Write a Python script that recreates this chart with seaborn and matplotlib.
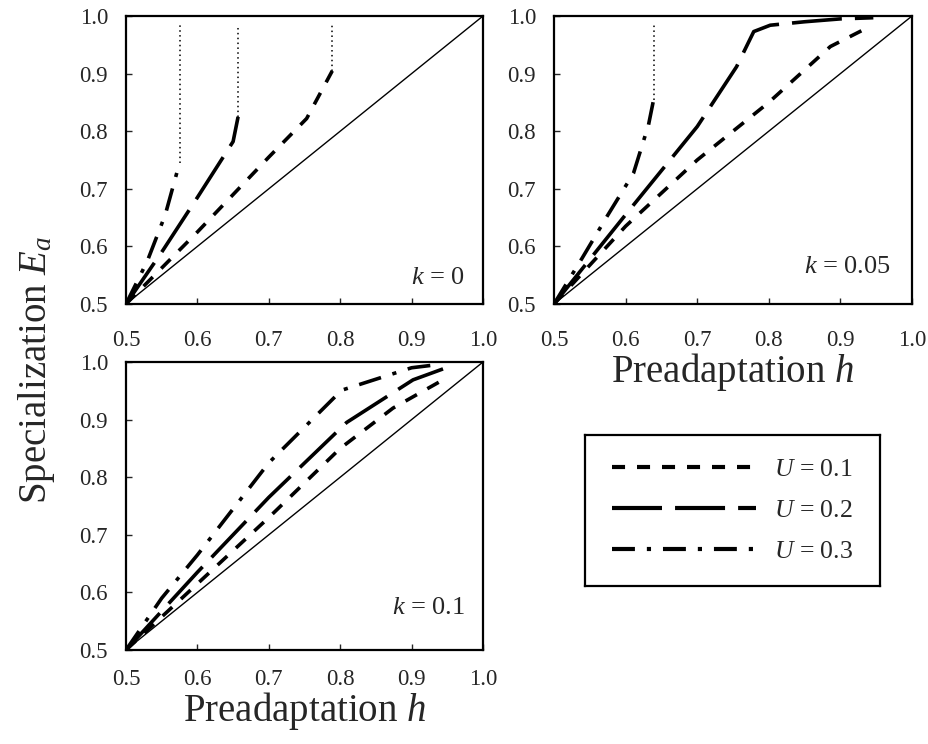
import numpy as np
import pandas as pd
import matplotlib
matplotlib.use("Agg")
import matplotlib.pyplot as plt
import seaborn as sns

# ---------------- data ----------------
# k = 0
k0_u1_h = [0.5, 0.6, 0.7, 0.753, 0.789]
k0_u1_e = [0.5, 0.625, 0.755, 0.822, 0.905]
k0_u2_h = [0.5, 0.55, 0.6, 0.65, 0.657]
k0_u2_e = [0.5, 0.59, 0.685, 0.782, 0.825]
k0_u3_h = [0.5, 0.53, 0.555, 0.575]
k0_u3_e = [0.5, 0.575, 0.655, 0.745]
# k = 0.05
k05_u1_h = [0.5, 0.6, 0.7, 0.8, 0.886, 0.932]
k05_u1_e = [0.5, 0.635, 0.75, 0.85, 0.947, 0.976]
k05_u2_h = [0.5, 0.6, 0.7, 0.755, 0.779, 0.802, 0.85, 0.9, 0.946]
k05_u2_e = [0.5, 0.655, 0.808, 0.912, 0.973, 0.984, 0.99, 0.995, 0.997]
k05_u3_h = [0.5, 0.539, 0.574, 0.611, 0.632, 0.639]
k05_u3_e = [0.5, 0.579, 0.652, 0.727, 0.811, 0.854]
# k = 0.1
k1_u1_h = [0.5, 0.6, 0.7, 0.8, 0.874, 0.944]
k1_u1_e = [0.5, 0.615, 0.73, 0.85, 0.92, 0.969]
k1_u2_h = [0.5, 0.6, 0.7, 0.809, 0.902, 0.944]
k1_u2_e = [0.5, 0.635, 0.765, 0.895, 0.969, 0.988]
k1_u3_h = [0.5, 0.55, 0.6, 0.7, 0.802, 0.9, 0.94]
k1_u3_e = [0.5, 0.59, 0.665, 0.825, 0.951, 0.99, 0.996]

# dotted continuation lines (h position, lower E, upper E)
k0_dot_h = [0.575, 0.657, 0.789]
k0_dot_lo = [0.745, 0.825, 0.905]
k05_dot_h = [0.639]
k05_dot_lo = [0.854]
dot_hi = 0.985

u_labels = ["$U$ = 0.1", "$U$ = 0.2", "$U$ = 0.3"]
k_labels = ["$k$ = 0", "$k$ = 0.05", "$k$ = 0.1"]
ticks = [0.5, 0.6, 0.7, 0.8, 0.9, 1.0]
tick_labels = ["0.5", "0.6", "0.7", "0.8", "0.9", "1.0"]

# ---------------- style ----------------
sns.set_style("white")
plt.rcParams["font.family"] = ["Liberation Serif", "DejaVu Serif"]
plt.rcParams["mathtext.fontset"] = "custom"
plt.rcParams["mathtext.rm"] = "Liberation Serif"
plt.rcParams["mathtext.it"] = "Liberation Serif:italic"
plt.rcParams["lines.scale_dashes"] = False

dash_map = {
    u_labels[0]: (9.4, 8.6),
    u_labels[1]: (36.0, 9.4),
    u_labels[2]: (16.5, 8.6, 3.0, 8.6),
}

def make_df(sets):
    rows = []
    for lab, hs, es in sets:
        for h, e in zip(hs, es):
            rows.append({"h": h, "E": e, "U": lab})
    return pd.DataFrame(rows)

panels = [
    make_df([(u_labels[0], k0_u1_h, k0_u1_e), (u_labels[1], k0_u2_h, k0_u2_e), (u_labels[2], k0_u3_h, k0_u3_e)]),
    make_df([(u_labels[0], k05_u1_h, k05_u1_e), (u_labels[1], k05_u2_h, k05_u2_e), (u_labels[2], k05_u3_h, k05_u3_e)]),
    make_df([(u_labels[0], k1_u1_h, k1_u1_e), (u_labels[1], k1_u2_h, k1_u2_e), (u_labels[2], k1_u3_h, k1_u3_e)]),
]
dots = [(k0_dot_h, k0_dot_lo), (k05_dot_h, k05_dot_lo), ([], [])]

W, H = 929, 744
fig = plt.figure(figsize=(W / 100, H / 100), dpi=100)

def rect(x0, x1, y0, y1):
    return [x0 / W, 1 - y1 / H, (x1 - x0) / W, (y1 - y0) / H]

rects = [rect(126, 483, 16, 304), rect(554, 912, 16, 304), rect(126, 483, 362, 650)]
xpads = [19, 19, 14]
k_pos = [(0.95, 0.09), (0.94, 0.13), (0.95, 0.145)]
axes = []
for i, r in enumerate(rects):
    ax = fig.add_axes(r)
    axes.append(ax)
    df = panels[i]
    sns.lineplot(data=df, x="h", y="E", style="U", style_order=u_labels, dashes=dash_map,
                 color="black", linewidth=2.6, sort=False, estimator=None, errorbar=None,
                 legend=(i == 2), ax=ax)
    diag = pd.DataFrame({"h": [0.5, 1.0], "E": [0.5, 1.0]})
    sns.lineplot(data=diag, x="h", y="E", color="black", linewidth=1.0,
                 estimator=None, errorbar=None, ax=ax)
    for hx, lo in zip(*dots[i]):
        dd = pd.DataFrame({"h": [hx, hx], "E": [lo, dot_hi]})
        sns.lineplot(data=dd, x="h", y="E", color="black", linewidth=1.1,
                     estimator=None, errorbar=None, sort=False,
                     linestyle=(0, (1.1, 2.4)), ax=ax)
    ax.set_xlim(0.5, 1.0)
    ax.set_ylim(0.5, 1.0)
    ax.set_xticks(ticks)
    ax.set_xticklabels(tick_labels)
    ax.set_yticks(ticks)
    ax.set_yticklabels(tick_labels)
    ax.tick_params(axis="x", direction="in", length=4, width=1, labelsize=16.5, pad=xpads[i], bottom=True)
    ax.tick_params(axis="y", direction="in", length=4, width=1, labelsize=16.5, pad=13, left=True)
    for s in ax.spines.values():
        s.set_linewidth(1.6)
        s.set_color("black")
    ax.set_xlabel("")
    ax.set_ylabel("")
    ax.text(k_pos[i][0], k_pos[i][1], k_labels[i], transform=ax.transAxes,
            ha="right", va="center", fontsize=19)

axes[1].set_xlabel("Preadaptation $h$", fontsize=28, labelpad=0)
axes[2].set_xlabel("Preadaptation $h$", fontsize=28, labelpad=0)
fig.text(37 / W, 1 - 370 / H, "Specialization $E_a$", rotation=90, fontsize=28,
         ha="center", va="center")

# legend in its own framed box
handles, labels = axes[2].get_legend_handles_labels()
axes[2].get_legend().remove()
for hdl in handles:
    hdl.set_linewidth(3.0)
lax = fig.add_axes(rect(585, 880, 435, 586))
lax.set_xticks([])
lax.set_yticks([])
for s in lax.spines.values():
    s.set_linewidth(1.6)
    s.set_color("black")
lax.legend(handles, labels, loc="center", frameon=False, fontsize=18.5,
           handlelength=5.6, handletextpad=0.7, labelspacing=0.7)

fig.savefig("out.png", dpi=100)
